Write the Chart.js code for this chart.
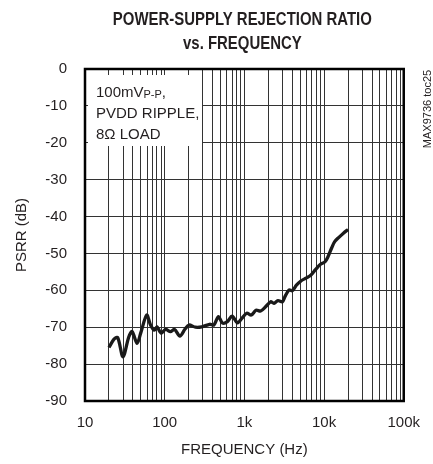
<!DOCTYPE html>
<html>
<head>
<meta charset="utf-8">
<script src="https://cdn.jsdelivr.net/npm/chart.js@4.4.0/dist/chart.umd.min.js"></script>
<style>
  html, body { margin: 0; padding: 0; background: #fff; }
</style>
</head>
<body>
<canvas id="psrr" width="433" height="464"></canvas>
<script>
// values
const freqHz = [20, 23, 25.7, 30, 35.5, 39, 45, 50, 59.5, 66.5,
  74, 80, 90, 103, 118, 133, 155, 180, 202, 243,
  292, 367, 415, 472, 532, 612, 700, 820, 930, 1070,
  1220, 1400, 1600, 1860, 2140, 2350, 2640, 3000, 3230, 3630,
  4000, 4500, 5170, 5930, 6800, 7800, 8950, 10250, 11200, 12400,
  13600, 15600, 17500, 20000];
const psrrDb = [-75.5, -73.3, -72.8, -78, -72.6, -71.2, -74.4, -71.6, -66.7, -69.4,
  -70.8, -69.9, -71.6, -70.6, -71.2, -70.6, -72.4, -70.5, -69.4, -70,
  -69.9, -69.2, -69.4, -67.1, -68.9, -68.5, -67, -68.8, -67.6, -66.2,
  -66.7, -65.4, -65.6, -64.4, -63.1, -63.5, -62.8, -63.1, -61.7, -59.9,
  -60.1, -58.6, -57.4, -56.7, -55.9, -54.4, -53, -52.3, -50.9, -48.6,
  -46.8, -45.5, -44.5, -43.5];

const xDecades = [10, 100, 1000, 10000, 100000];
const xLabels = ['10', '100', '1k', '10k', '100k'];
const xMinor = [1, 2, 3, 4, 5, 6, 7, 8, 9];
const yMin = -90, yMax = 0, yStep = 10;

const titleLines = ['POWER-SUPPLY REJECTION RATIO', 'vs. FREQUENCY'];
const sideLabel = 'MAX9736 toc25';

const textColor = '#231f20';
const gridColor = '#333';

// title, note box, frame and side label
const decorations = {
  id: 'decorations',
  beforeDatasetsDraw(chart) {
    const { ctx, chartArea: a } = chart;
    ctx.save();
    ctx.fillStyle = '#fff';
    ctx.fillRect(a.left + 3, a.top + 6, 114, 71);
    ctx.restore();
  },
  afterDraw(chart) {
    const { ctx, chartArea: a } = chart;
    ctx.save();

    // frame
    ctx.strokeStyle = '#000';
    ctx.lineWidth = 2.5;
    ctx.strokeRect(a.left, a.top, a.right - a.left, a.bottom - a.top);

    // title (condensed bold)
    ctx.fillStyle = textColor;
    ctx.font = 'bold 18px "Liberation Sans", Arial, sans-serif';
    ctx.textAlign = 'center';
    ctx.textBaseline = 'alphabetic';
    const cx = (a.left + a.right) / 2 - 2;
    [25, 49].forEach((y, i) => {
      ctx.save();
      ctx.translate(cx, y);
      ctx.scale(0.83, 1.05);
      ctx.fillText(titleLines[i], 0, 0);
      ctx.restore();
    });

    // note text
    ctx.textAlign = 'left';
    const nx = a.left + 11;
    ctx.font = '15px "Liberation Sans", Arial, sans-serif';
    ctx.fillText('100mV', nx, a.top + 28);
    let w = ctx.measureText('100mV').width;
    ctx.font = '11px "Liberation Sans", Arial, sans-serif';
    ctx.fillText('P-P', nx + w, a.top + 29);
    w += ctx.measureText('P-P').width;
    ctx.font = '15px "Liberation Sans", Arial, sans-serif';
    ctx.fillText(',', nx + w, a.top + 28);
    ctx.fillText('PVDD RIPPLE,', nx, a.top + 49);
    ctx.fillText('8\u03A9 LOAD', nx, a.top + 70);

    // side label
    ctx.font = '11px "Liberation Sans", Arial, sans-serif';
    ctx.textAlign = 'center';
    ctx.textBaseline = 'middle';
    ctx.translate(428, 109);
    ctx.rotate(-Math.PI / 2);
    ctx.fillText(sideLabel, 0, 0);
    ctx.restore();
  }
};

new Chart(document.getElementById('psrr'), {
  type: 'line',
  data: {
    datasets: [{
      data: freqHz.map((f, i) => ({ x: f, y: psrrDb[i] })),
      borderColor: '#1a1a1a',
      borderWidth: 3.3,
      pointRadius: 0,
      tension: 0.3,
      fill: false
    }]
  },
  options: {
    responsive: false,
    animation: false,
    layout: { padding: { top: 69, right: 16, left: 0, bottom: 0 } },
    plugins: {
      legend: { display: false },
      tooltip: { enabled: false }
    },
    scales: {
      x: {
        type: 'logarithmic',
        min: xDecades[0],
        max: xDecades[xDecades.length - 1],
        afterBuildTicks: (scale) => {
          const ticks = [];
          xDecades.forEach(d => xMinor.forEach(m => {
            if (d * m <= scale.max) ticks.push({ value: d * m });
          }));
          scale.ticks = ticks;
        },
        afterFit: (scale) => { scale.height = 63; },
        grid: { color: gridColor, lineWidth: 1, drawTicks: false },
        border: { display: false },
        ticks: {
          autoSkip: false,
          maxRotation: 0,
          padding: 13,
          color: textColor,
          font: { family: '"Liberation Sans", Arial, sans-serif', size: 15 },
          callback: (value) => {
            const i = xDecades.indexOf(value);
            return i >= 0 ? xLabels[i] : '';
          }
        },
        title: {
          display: true,
          text: 'FREQUENCY (Hz)',
          color: textColor,
          font: { family: '"Liberation Sans", Arial, sans-serif', size: 15 },
          padding: { top: 0, bottom: 5 }
        }
      },
      y: {
        min: yMin,
        max: yMax,
        afterFit: (scale) => { scale.width = 85; },
        grid: { color: gridColor, lineWidth: 1, drawTicks: false },
        border: { display: false },
        ticks: {
          stepSize: yStep,
          padding: 18,
          color: textColor,
          font: { family: '"Liberation Sans", Arial, sans-serif', size: 15 }
        },
        title: {
          display: true,
          text: 'PSRR (dB)',
          color: textColor,
          font: { family: '"Liberation Sans", Arial, sans-serif', size: 15 },
          padding: { top: 13, bottom: 0 }
        }
      }
    }
  },
  plugins: [decorations]
});
</script>
</body>
</html>
